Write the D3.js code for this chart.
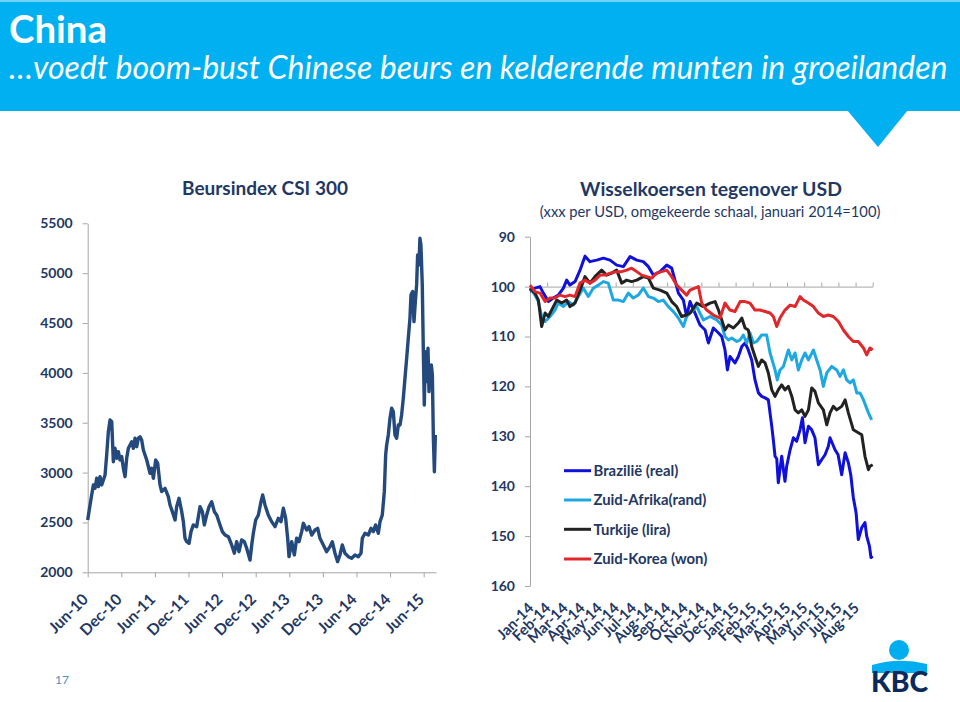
<!DOCTYPE html>
<html><head><meta charset="utf-8">
<script src="https://cdn.jsdelivr.net/npm/d3@7"></script>
<style>
html,body{margin:0;padding:0;background:#fff;}
svg{display:block;font-family:Lato,"Open Sans",sans-serif;}
</style></head><body>
<svg id="c" width="960" height="702"></svg>
<script>
// ---------- texts ----------
const headTitle = "China";
const headSub = "\u2026voedt boom-bust Chinese beurs en kelderende munten in groeilanden";
const leftTitle = "Beursindex CSI 300";
const rightTitle = "Wisselkoersen tegenover USD";
const rightSubtitle = "(xxx per USD, omgekeerde schaal, januari 2014=100)";
const pageNumber = "17";
const logoText = "KBC";

// ---------- left chart: CSI 300 (x = months since Jun-2010) ----------
const leftXLabels = ["Jun-10","Dec-10","Jun-11","Dec-11","Jun-12","Dec-12","Jun-13","Dec-13","Jun-14","Dec-14","Jun-15"];
const leftXTickMonths = [0,6,12,18,24,30,36,42,48,54,60];
const leftYTicks = [2000,2500,3000,3500,4000,4500,5000,5500];
const csi300 = [[0,2525],[0.42,2675],[0.71,2775],[1.01,2876],[1.31,2842],[1.61,2943],[1.9,2859],[2.2,2959],[2.5,2876],[2.8,2926],[3.1,2976],[3.39,3177],[3.69,3410],[3.99,3528],[4.29,3511],[4.58,3109],[4.88,3244],[5.18,3143],[5.48,3210],[5.77,3126],[6.07,3160],[6.37,3043],[6.67,2959],[6.96,3143],[7.26,3244],[7.86,3310],[8.15,3244],[8.45,3344],[8.75,3260],[9.05,3344],[9.35,3360],[9.64,3327],[9.94,3227],[10.54,3126],[11.13,2993],[11.43,3043],[11.73,2943],[12.14,3126],[12.5,3093],[12.92,2876],[13.21,2809],[13.81,2842],[14.4,2759],[14.7,2675],[15.12,2608],[15.6,2525],[15.89,2658],[16.31,2742],[16.79,2608],[17.08,2508],[17.38,2341],[17.68,2307],[18.1,2291],[18.45,2408],[18.87,2475],[19.46,2458],[20.06,2658],[20.48,2608],[20.83,2475],[21.25,2575],[21.67,2658],[22.14,2708],[22.62,2608],[23.04,2575],[23.63,2475],[24.05,2408],[24.52,2374],[25.12,2357],[25.71,2274],[26.19,2191],[26.61,2307],[27.02,2207],[27.5,2324],[27.98,2307],[28.39,2241],[28.99,2123],[29.29,2274],[29.58,2391],[30.0,2525],[30.48,2575],[30.95,2708],[31.25,2775],[31.66,2675],[32.25,2575],[32.85,2508],[33.45,2458],[34.04,2542],[34.52,2508],[34.94,2642],[35.35,2542],[35.71,2341],[35.95,2157],[36.43,2307],[36.9,2174],[37.32,2341],[37.74,2307],[38.21,2408],[38.51,2491],[39.1,2424],[39.52,2458],[40.0,2374],[40.59,2424],[41.07,2441],[41.48,2341],[42.08,2274],[42.67,2207],[43.27,2257],[43.68,2307],[44.16,2191],[44.63,2107],[45.05,2174],[45.47,2274],[45.94,2191],[46.54,2157],[47.13,2140],[47.73,2174],[48.33,2157],[48.8,2191],[49.04,2341],[49.52,2391],[50.11,2374],[50.59,2441],[51.0,2408],[51.42,2475],[51.9,2391],[52.2,2508],[52.61,2575],[52.97,2809],[53.21,3177],[53.39,3277],[53.68,3377],[53.98,3544],[54.28,3645],[54.58,3611],[54.87,3377],[55.17,3344],[55.47,3477],[55.77,3477],[56.06,3578],[56.36,3745],[56.66,3946],[56.96,4146],[57.25,4347],[57.55,4548],[57.73,4781],[58.03,4815],[58.27,4514],[58.51,4714],[58.74,4882],[58.92,5183],[59.16,5082],[59.33,5350],[59.51,5283],[59.75,4882],[59.93,4247],[60.11,3678],[60.29,4213],[60.53,3912],[60.77,4247],[60.95,3812],[61.13,4046],[61.37,4079],[61.55,3979],[61.73,3344],[61.91,3009],[62.08,3377]];

// ---------- right chart: FX vs USD (x = months since Jan-2014, index Jan 2014 = 100) ----------
const rightXLabels = ["Jan-14","Feb-14","Mar-14","Apr-14","May-14","Jun-14","Jul-14","Aug-14","Sep-14","Oct-14","Nov-14","Dec-14","Jan-15","Feb-15","Mar-15","Apr-15","May-15","Jun-15","Jul-15","Aug-15"];
const rightYTicks = [90,100,110,120,130,140,150,160];
const seriesNames = ["Brazili\u00eb (real)","Zuid-Afrika(rand)","Turkije (lira)","Zuid-Korea (won)"];
const brazil = [[0,101],[0.29,100.3],[0.58,100],[0.78,101.3],[1.07,103],[1.36,102.3],[1.65,101.7],[1.95,100.3],[2.14,98.7],[2.33,99.7],[2.63,99],[2.92,96.7],[3.21,93.9],[3.5,95],[3.89,94.7],[4.28,94.3],[4.67,94.7],[5.06,95.7],[5.45,96],[5.84,94],[6.23,94.7],[6.61,95],[6.91,96],[7.2,97.7],[7.59,97],[7.98,95.7],[8.27,96.3],[8.46,98.7],[8.66,101.3],[8.95,102.7],[9.14,106],[9.34,103],[9.63,105.3],[9.92,107.7],[10.22,108.7],[10.41,111.3],[10.7,108.3],[11.0,109.3],[11.19,110],[11.38,112.7],[11.52,116.7],[11.67,114],[11.96,115.3],[12.16,114],[12.36,112],[12.55,111.3],[12.74,112.7],[12.94,114.7],[13.13,118.7],[13.33,121.3],[13.52,122],[13.72,122.3],[13.91,122.7],[14.11,128],[14.2,130.7],[14.3,134],[14.4,134.5],[14.49,139.3],[14.69,134],[14.88,139],[14.98,136],[15.18,132.7],[15.37,130.3],[15.56,131],[15.76,128.7],[15.9,126.3],[16.05,131.3],[16.25,128],[16.44,128.7],[16.63,130.3],[16.83,135.7],[17.02,134.7],[17.22,133.7],[17.41,132],[17.51,130.3],[17.8,132.7],[17.98,133.7],[18.19,137.7],[18.39,133.3],[18.58,135.3],[18.72,137.7],[18.87,142.3],[19.03,145.3],[19.16,150.7],[19.36,148.3],[19.55,147.3],[19.65,150],[19.81,152],[19.9,154.3],[20.0,154]];
const southAfrica = [[0,100.3],[0.29,101.7],[0.49,103],[0.68,106],[0.88,107],[1.17,106],[1.46,104.7],[1.65,103.3],[1.95,104],[2.24,103],[2.53,103.7],[2.82,102],[3.11,100.3],[3.4,102],[3.7,100.3],[3.99,99.7],[4.28,99],[4.57,99.3],[4.86,102.7],[5.16,102.7],[5.45,103],[5.74,101.3],[6.03,102.3],[6.32,101.7],[6.61,100.3],[6.91,102],[7.2,102.3],[7.49,103],[7.78,102.7],[8.07,104],[8.37,105],[8.66,106.3],[8.95,108],[9.14,106],[9.34,105.3],[9.73,104],[10.12,106.7],[10.51,106],[10.9,106.7],[11.19,107.7],[11.38,110],[11.58,110.7],[11.77,110.3],[12.07,111],[12.26,110.7],[12.45,109.7],[12.65,111.3],[12.84,109.3],[13.04,111.3],[13.23,111],[13.52,109.7],[13.81,109.7],[14.01,113.3],[14.3,116.7],[14.43,118.7],[14.59,116.7],[14.79,116],[15.08,112.7],[15.28,114.7],[15.47,113.3],[15.66,116.7],[15.86,114.7],[16.05,113.3],[16.25,114.7],[16.54,112.7],[16.73,114.7],[16.93,116.7],[17.12,120],[17.32,117.3],[17.61,116],[17.9,116.7],[18.09,118],[18.29,116.7],[18.48,118.7],[18.68,119.3],[18.87,118.7],[19.07,121.3],[19.26,121.3],[19.46,122.7],[19.75,125.3],[19.94,126.7]];
const turkey = [[0,100.3],[0.29,101.3],[0.49,102.7],[0.68,108],[0.88,105.3],[1.07,106],[1.26,104.7],[1.56,102.7],[1.85,103.3],[2.14,102.7],[2.33,104],[2.63,103.3],[2.92,100.7],[3.21,98],[3.5,99.3],[3.79,98],[4.18,96.7],[4.47,97.7],[4.77,97.3],[5.06,96.7],[5.35,99.3],[5.64,98.7],[5.93,99],[6.23,98.7],[6.61,98],[6.91,98.3],[7.2,100.3],[7.59,100.7],[7.98,101.3],[8.27,103],[8.56,104],[8.85,106],[9.14,105.7],[9.34,105.3],[9.73,103.3],[10.12,104],[10.51,103.3],[10.8,103],[11.0,104.7],[11.19,106.7],[11.38,108.7],[11.58,107.7],[11.87,108.3],[12.16,107.3],[12.36,106.3],[12.55,108.3],[12.74,108.7],[12.94,112],[13.13,114],[13.33,116],[13.52,114.7],[13.72,115.3],[13.91,117.3],[14.11,120.7],[14.3,122],[14.49,120.7],[14.69,119.7],[14.88,120.7],[15.08,120],[15.28,122],[15.47,124.7],[15.66,125.3],[15.86,124.7],[16.05,126],[16.25,124.7],[16.44,120.3],[16.63,121],[16.83,123.3],[17.12,124.7],[17.32,127.7],[17.51,125.3],[17.7,124],[17.9,124.7],[18.19,124],[18.39,122.7],[18.58,125.3],[18.87,128.7],[19.16,129.3],[19.36,129.7],[19.55,134],[19.75,136.7],[19.84,136],[20.0,135.7]];
const korea = [[0,99.7],[0.29,101],[0.58,101.3],[0.88,103],[1.17,102.3],[1.46,102.3],[1.75,101.7],[2.04,102],[2.33,101.7],[2.63,102],[2.92,99.3],[3.21,98.7],[3.5,99.3],[3.79,98.7],[4.09,97.7],[4.38,97.7],[4.67,97.3],[5.06,97],[5.35,97],[5.64,96.7],[5.93,96.3],[6.23,97],[6.52,97.7],[6.81,98],[7.1,98.3],[7.39,97.3],[7.68,97],[7.98,96.7],[8.27,98],[8.56,99.7],[8.85,100.7],[9.14,101.7],[9.34,100.7],[9.83,100],[10.02,103.3],[10.31,104.7],[10.7,105.7],[11.09,106.3],[11.38,103.3],[11.67,104.7],[11.96,105],[12.26,103],[12.55,103],[12.84,103.3],[13.13,104.7],[13.42,104.7],[13.72,105],[14.01,105.3],[14.2,106],[14.4,108],[14.59,106.3],[14.88,104.7],[15.18,103.7],[15.47,104],[15.76,102],[15.95,102.7],[16.25,103.3],[16.54,104],[16.83,105.3],[17.12,106],[17.41,105.7],[17.7,106],[18.0,107],[18.29,108.7],[18.58,110],[18.87,111],[19.16,111],[19.46,112.3],[19.65,113.7],[19.84,112.3],[20.0,112.7]];
const seriesData = [brazil, southAfrica, turkey, korea];

// ---------- styles ----------
const NAVY = "#1f3864";
const AXIS = "#a6a6a6";
const seriesColors = ["#1010dc","#1ea8e2","#222222","#e0282c"];

const svg = d3.select("#c");

function fitSize(text, weight, style, target){
  const t = svg.append("text").attr("font-size",100).attr("font-weight",weight)
    .attr("font-style",style).text(text);
  const w = t.node().getComputedTextLength(); t.remove();
  return 100*target/w;
}

// ---------- header ----------
svg.append("rect").attr("x",0).attr("y",0).attr("width",960).attr("height",111).attr("fill","#00b0f0");
svg.append("rect").attr("x",0).attr("y",0).attr("width",960).attr("height",2).attr("fill","#6fd2f6");
svg.append("path").attr("d","M847,110 L908,110 L878,147 Z").attr("fill","#00b0f0");
svg.append("text").attr("x",9).attr("y",43).attr("fill","#fff").attr("font-weight",700)
  .attr("font-size",fitSize(headTitle,700,"normal",98)).text(headTitle);
svg.append("text").attr("x",9).attr("y",79).attr("fill","#fff").attr("font-style","italic").attr("font-weight",400)
  .attr("font-size",fitSize(headSub,400,"italic",939)).text(headSub);

// common sizes
const tickFont = fitSize("5500",700,"normal",32.5);
const xTickFont = fitSize("Jun-10",700,"normal",48);

// ---------- left chart ----------
const xL = d3.scaleLinear().domain([0,62.2]).range([87.7,436]);
const yL = d3.scaleLinear().domain([2000,5500]).range([572.3,223.3]);

svg.append("text").attr("x",265).attr("y",195).attr("text-anchor","middle").attr("fill",NAVY)
  .attr("font-weight",700).attr("font-size",fitSize(leftTitle,700,"normal",166)).text(leftTitle);

const gLy = svg.append("g").attr("transform",`translate(${xL.range()[0]},0)`)
  .call(d3.axisLeft(yL).tickValues(leftYTicks).tickSize(5).tickSizeOuter(0).tickPadding(10).tickFormat(d3.format("d")));
const gLx = svg.append("g").attr("transform",`translate(0,${yL(2000)})`)
  .call(d3.axisBottom(xL).tickValues(leftXTickMonths).tickSize(5).tickSizeOuter(0).tickFormat((d,i)=>leftXLabels[i]));
gLx.selectAll("text").attr("x",null).attr("y",null).attr("dy",null)
  .attr("text-anchor","end").attr("transform","translate(1,28) rotate(-45)").attr("font-size",xTickFont);

svg.append("path").datum(csi300)
  .attr("fill","none").attr("stroke","#23497d").attr("stroke-width",3.4).attr("stroke-linejoin","round")
  .attr("d",d3.line().x(d=>xL(d[0])).y(d=>yL(d[1])));

// ---------- right chart ----------
const xR = d3.scaleLinear().domain([0,20]).range([530,872.7]);
const yR = d3.scaleLinear().domain([90,160]).range([236.7,586]);

svg.append("text").attr("x",711).attr("y",196).attr("text-anchor","middle").attr("fill",NAVY)
  .attr("font-weight",700).attr("font-size",fitSize(rightTitle,700,"normal",262)).text(rightTitle);
svg.append("text").attr("x",710).attr("y",217).attr("text-anchor","middle").attr("fill",NAVY)
  .attr("font-weight",400).attr("font-size",fitSize(rightSubtitle,400,"normal",341)).text(rightSubtitle);

const gRy = svg.append("g").attr("transform",`translate(${xR.range()[0]},0)`)
  .call(d3.axisLeft(yR).tickValues(rightYTicks).tickSize(5).tickSizeOuter(0).tickPadding(10));
// axis line crossing at 100 with ticks pointing up
const gRx = svg.append("g").attr("transform",`translate(0,${yR(100)})`)
  .call(d3.axisTop(xR).tickValues(d3.range(0,21)).tickSize(4).tickSizeOuter(0).tickFormat(""));
// labels in low position
const gRl = svg.append("g").attr("transform",`translate(0,${yR(160)})`)
  .call(d3.axisBottom(xR).tickValues(d3.range(0,20)).tickSize(0).tickFormat((d,i)=>rightXLabels[i]));
gRl.select(".domain").remove();
gRl.selectAll("text").attr("x",null).attr("y",null).attr("dy",null)
  .attr("text-anchor","end").attr("transform","translate(4,23) rotate(-45)").attr("font-size",xTickFont*0.95);

[gLy,gLx,gRy,gRx].forEach(g=>{
  g.select(".domain").attr("stroke",AXIS);
  g.selectAll(".tick line").attr("stroke",AXIS);
});
[gLy,gLx,gRy,gRl].forEach(g=>{
  g.selectAll("text").attr("fill",NAVY).attr("font-weight",700).attr("font-family","Lato, 'Open Sans', sans-serif");
});
gLy.selectAll("text").attr("font-size",tickFont);
gRy.selectAll("text").attr("font-size",tickFont);

const lineR = d3.line().x(d=>xR(d[0])).y(d=>yR(d[1]));
seriesData.forEach((s,i)=>{
  svg.append("path").datum(s).attr("fill","none").attr("stroke",seriesColors[i])
    .attr("stroke-width",3).attr("stroke-linejoin","round").attr("d",lineR);
});

// legend
const legFont = fitSize(seriesNames[1],700,"normal",113);
const legY = [470.7,500,529.3,559];
seriesNames.forEach((n,i)=>{
  svg.append("line").attr("x1",564).attr("x2",591).attr("y1",legY[i]).attr("y2",legY[i])
    .attr("stroke",seriesColors[i]).attr("stroke-width",3);
  svg.append("text").attr("x",593.5).attr("y",legY[i]).attr("dy","0.35em").attr("fill",NAVY)
    .attr("font-weight",700).attr("font-size",legFont).text(n);
});

// ---------- footer ----------
svg.append("text").attr("x",55).attr("y",684).attr("fill","#4f8fc0").attr("font-size",12).text(pageNumber);
svg.append("circle").attr("cx",899).attr("cy",650).attr("r",10).attr("fill","#00aeef");
svg.append("path").attr("d","M872,673 L872,665 Q899,657 927,664 L927,673 Z").attr("fill","#00aeef");
svg.append("text").attr("x",871).attr("y",692).attr("fill","#0b2a5c").attr("font-weight",900)
  .attr("font-size",fitSize(logoText,900,"normal",57)).text(logoText);
</script>
</body></html>
